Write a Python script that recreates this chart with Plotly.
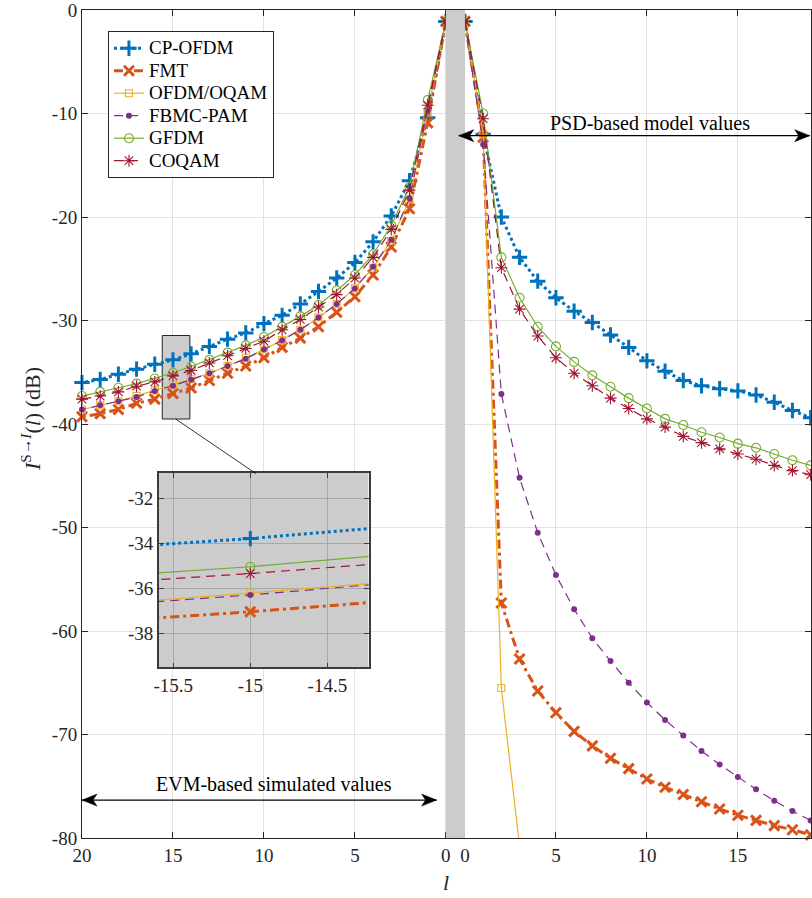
import plotly.graph_objects as go

# ---------------- data ----------------
SERIES = ["CP-OFDM", "FMT", "OFDM/OQAM", "FBMC-PAM", "GFDM", "COQAM"]

# left half: l = 0..20 (EVM-based simulated values, shown mirrored)
L_LEFT = list(range(0, 21))
CP_LEFT = [-1.1, -10.4, -16.5, -19.9, -22.4, -24.4, -25.9, -27.2, -28.4, -29.5, -30.3,
           -31.2, -31.8, -32.5, -33.22, -33.8, -34.22, -34.7, -35.2, -35.7, -36.0]
FMT_LEFT = [-1.1, -10.9, -19.2, -22.9, -25.6, -27.7, -29.2, -30.6, -31.7, -32.6, -33.6,
            -34.4, -35.1, -35.8, -36.52, -37.05, -37.6, -38.0, -38.6, -39.0, -39.3]
OQAM_LEFT = [-1.1, -9.9, -18.3, -22.3, -24.9, -26.9, -28.4, -29.7, -30.9, -31.9, -32.8,
             -33.6, -34.4, -35.1, -35.68, -36.2, -36.75, -37.3, -37.8, -38.2, -38.6]
PAM_LEFT = [-1.1, -9.7, -18.2, -22.2, -24.8, -26.9, -28.4, -29.7, -30.9, -31.9, -32.8,
            -33.7, -34.4, -35.1, -35.72, -36.3, -36.8, -37.4, -37.8, -38.2, -38.6]
GFDM_LEFT = [-1.1, -8.7, -17.1, -20.8, -23.6, -25.6, -27.1, -28.5, -29.6, -30.6, -31.6,
             -32.4, -33.1, -33.8, -34.45, -35.05, -35.6, -36.1, -36.5, -36.9, -37.3]
COQAM_LEFT = [-1.1, -9.2, -17.4, -21.2, -23.9, -25.9, -27.5, -28.7, -29.9, -30.9, -32.0,
              -32.7, -33.4, -34.1, -34.83, -35.35, -35.93, -36.35, -36.9, -37.3, -37.6]

# right half: l = 0..19 (PSD-based model values)
L_RIGHT = list(range(0, 20))
L_RIGHT_OQAM = list(range(0, 4))
CP_RIGHT = [-1.1, -12.0, -20.0, -23.9, -26.2, -27.8, -29.1, -30.2, -31.4, -32.6, -33.9,
            -34.9, -35.8, -36.3, -36.6, -36.8, -37.2, -37.9, -38.7, -39.4]
FMT_RIGHT = [-1.1, -12.3, -57.3, -62.7, -65.8, -67.9, -69.7, -71.1, -72.3, -73.3, -74.3,
             -75.1, -75.8, -76.5, -77.2, -77.8, -78.3, -78.8, -79.2, -79.7]
OQAM_RIGHT = [-1.1, -12.0, -65.5, -80.8]
PAM_RIGHT = [-1.1, -13.0, -37.1, -45.2, -50.5, -54.6, -57.9, -60.7, -62.9, -65.0, -66.9,
             -68.6, -70.1, -71.6, -72.9, -74.1, -75.3, -76.4, -77.4, -78.3]
GFDM_RIGHT = [-1.1, -10.0, -23.9, -27.8, -30.6, -32.5, -34.0, -35.3, -36.4, -37.5, -38.5,
              -39.5, -40.1, -40.8, -41.3, -41.9, -42.3, -42.9, -43.5, -44.0]
COQAM_RIGHT = [-1.1, -10.5, -24.9, -28.9, -31.5, -33.6, -35.1, -36.3, -37.5, -38.5, -39.5,
               -40.3, -41.2, -41.8, -42.4, -42.9, -43.4, -44.0, -44.5, -44.9]

X_TICKS_LEFT = [20, 15, 10, 5, 0]
X_TICKS_RIGHT = [0, 5, 10, 15]
Y_TICKS = [-80, -70, -60, -50, -40, -30, -20, -10, 0]
INSET_X_TICKS = [-15.5, -15, -14.5]
INSET_Y_TICKS = [-38, -36, -34, -32]

# ---------------- styling ----------------
GAP = 1.05  # width of the grey separator band (axis units)
FONT = "Liberation Serif"
AX = "#262626"

styles = {
    "CP-OFDM": dict(color="#0072BD", width=3, dash="3px,3px", symbol="cross-thin", size=11, mlw=3),
    "FMT": dict(color="#D95319", width=3, dash="9px,4px,3px,4px", symbol="x-thin", size=10, mlw=3),
    "OFDM/OQAM": dict(color="#EDB120", width=1.2, dash="solid", symbol="square-open", size=7, mlw=1.1),
    "FBMC-PAM": dict(color="#7E2F8E", width=1.2, dash="9px,6px", symbol="circle", size=6, mlw=0),
    "GFDM": dict(color="#77AC30", width=1.2, dash="solid", symbol="circle-open", size=9, mlw=1.1),
    "COQAM": dict(color="#A2142F", width=1.2, dash="9px,6px", symbol="asterisk-open", size=10, mlw=1.1),
}

left_vals = {"CP-OFDM": CP_LEFT, "FMT": FMT_LEFT, "OFDM/OQAM": OQAM_LEFT,
             "FBMC-PAM": PAM_LEFT, "GFDM": GFDM_LEFT, "COQAM": COQAM_LEFT}
right_vals = {"CP-OFDM": CP_RIGHT, "FMT": FMT_RIGHT, "OFDM/OQAM": OQAM_RIGHT,
              "FBMC-PAM": PAM_RIGHT, "GFDM": GFDM_RIGHT, "COQAM": COQAM_RIGHT}
right_l = {k: (L_RIGHT_OQAM if k == "OFDM/OQAM" else L_RIGHT) for k in SERIES}

fig = go.Figure()

for name in SERIES:
    st = styles[name]
    xs = [-l for l in L_LEFT] + [None] + [GAP + l for l in right_l[name]]
    ys = list(left_vals[name]) + [None] + list(right_vals[name])
    fig.add_trace(go.Scatter(
        x=xs, y=ys, mode="lines+markers",
        name=f'<span style="font-size:19px">{name}</span>',
        line=dict(color=st["color"], width=st["width"], dash=st["dash"]),
        marker=dict(symbol=st["symbol"], size=st["size"], color=st["color"],
                    line=dict(color=st["color"], width=st["mlw"])),
        connectgaps=False,
        cliponaxis=(name == "OFDM/OQAM"),
        xaxis="x", yaxis="y",
    ))

# inset (zoom of the left side around l = 15)
for name in SERIES:
    st = styles[name]
    fig.add_trace(go.Scatter(
        x=[-l for l in L_LEFT], y=left_vals[name], mode="lines+markers",
        showlegend=False,
        line=dict(color=st["color"], width=st["width"], dash=st["dash"]),
        marker=dict(symbol=st["symbol"], size=st["size"], color=st["color"],
                    line=dict(color=st["color"], width=st["mlw"])),
        xaxis="x2", yaxis="y2",
    ))

x_tickvals = [-v for v in X_TICKS_LEFT] + [GAP + v for v in X_TICKS_RIGHT]
x_ticktext = [str(v) for v in X_TICKS_LEFT] + [str(v) for v in X_TICKS_RIGHT]

tickfont = dict(family=FONT, size=19, color=AX)

fig.update_layout(
    width=812, height=898,
    margin=dict(l=82, r=0, t=8, b=60),
    paper_bgcolor="white", plot_bgcolor="rgba(0,0,0,0)",
    font=dict(family=FONT, size=19, color=AX),
    xaxis=dict(domain=[0, 1], range=[-20, 20.07], tickvals=x_tickvals, ticktext=x_ticktext,
               ticks="inside", ticklen=6, tickcolor=AX, showline=True, linecolor=AX,
               linewidth=1, mirror="ticks", showgrid=True, gridcolor="#e2e2e2",
               zeroline=False, tickfont=tickfont, anchor="y", ticklabeloverflow="allow"),
    yaxis=dict(domain=[0, 1], range=[-80, 0], tickvals=Y_TICKS,
               ticktext=[str(v) for v in Y_TICKS],
               ticks="inside", ticklen=6, tickcolor=AX, showline=True, linecolor=AX,
               linewidth=1, mirror="ticks", showgrid=True, gridcolor="#e2e2e2",
               zeroline=False, tickfont=tickfont, anchor="x", ticklabeloverflow="allow"),
    xaxis2=dict(domain=[0.1055, 0.3932], range=[-15.593, -14.232], anchor="y2",
                tickvals=INSET_X_TICKS, ticktext=[str(v) for v in INSET_X_TICKS],
                ticks="inside", ticklen=5, tickcolor="#3c3c3c", showline=True,
                linecolor="#3c3c3c", linewidth=1.5, mirror="ticks", showgrid=True,
                gridcolor="#a9a9a9", zeroline=False, tickfont=tickfont),
    yaxis2=dict(domain=[0.2060, 0.4410], range=[-39.52, -30.88], anchor="x2",
                tickvals=INSET_Y_TICKS, ticktext=[str(v) for v in INSET_Y_TICKS],
                ticks="inside", ticklen=5, tickcolor="#3c3c3c", showline=True,
                linecolor="#3c3c3c", linewidth=1.5, mirror="ticks", showgrid=True,
                gridcolor="#a9a9a9", zeroline=False, tickfont=tickfont),
    legend=dict(x=0.0356, y=0.9747, xanchor="left", yanchor="top",
                bgcolor="white", bordercolor=AX, borderwidth=1,
                font=dict(family=FONT, size=15, color="black"),
                tracegroupgap=0),
    showlegend=True,
)

PSD_Y, PSD_X0, PSD_X1 = -12.14, 0.71, 20.0
EVM_Y, EVM_X0, EVM_X1 = -76.34, -20.0, -0.51
HEAD_R = "M0,0 L-15,6 L-11,0 L-15,-6 Z"
HEAD_L = "M0,0 L15,6 L11,0 L15,-6 Z"


def arrow_shapes(x0, x1, y):
    return [
        dict(type="line", xref="x", yref="y", x0=x0, x1=x1, y0=y, y1=y,
             line=dict(color="black", width=1.2), layer="above"),
        dict(type="path", xref="x", yref="y", xsizemode="pixel", ysizemode="pixel",
             xanchor=x1, yanchor=y, path=HEAD_R, fillcolor="black",
             line=dict(color="black", width=0.5), layer="above"),
        dict(type="path", xref="x", yref="y", xsizemode="pixel", ysizemode="pixel",
             xanchor=x0, yanchor=y, path=HEAD_L, fillcolor="black",
             line=dict(color="black", width=0.5), layer="above"),
    ]


shapes = [
    # inset background
    dict(type="rect", xref="x2", yref="y2", x0=-15.593, x1=-14.232, y0=-39.52, y1=-30.88,
         fillcolor="#cccccc", line=dict(width=0), layer="below"),
    # zoom region marker on main plot
    dict(type="rect", xref="x", yref="y", x0=-15.59, x1=-14.07, y0=-39.52, y1=-31.45,
         fillcolor="#cccccc", line=dict(color=AX, width=1), layer="between"),
    # connector
    dict(type="line", xref="x", yref="y", x0=-14.85, y0=-39.52, x1=-10.44, y1=-44.79,
         line=dict(color="black", width=0.8), layer="above"),
    # grey separator band
    dict(type="rect", xref="x", yref="y", x0=0, x1=GAP, y0=-80, y1=0,
         fillcolor="#cccccc", line=dict(width=0), layer="above"),
]
shapes += arrow_shapes(PSD_X0, PSD_X1, PSD_Y)
shapes += arrow_shapes(EVM_X0, EVM_X1, EVM_Y)
fig.update_layout(shapes=shapes)

annotations = [
    dict(text="<i>I</i><sup>S→<i>I</i></sup>(<i>l</i>) (dB)", xref="paper", yref="paper",
         x=-0.07, y=0.506, textangle=-90, showarrow=False, xanchor="center", yanchor="middle",
         font=dict(family=FONT, size=22, color=AX)),
    dict(text="<i>l</i>", xref="paper", yref="paper", x=0.4996, y=-0.0542, showarrow=False,
         xanchor="center", yanchor="middle", font=dict(family=FONT, size=22, color=AX)),
    dict(text="PSD-based model values", xref="x", yref="y", x=11.21, y=-10.9, showarrow=False,
         xanchor="center", yanchor="middle", font=dict(family=FONT, size=20, color="black")),
    dict(text="EVM-based simulated values", xref="x", yref="y", x=-9.45, y=-74.8, showarrow=False,
         xanchor="center", yanchor="middle", font=dict(family=FONT, size=20, color="black")),
]
fig.update_layout(annotations=annotations)

fig.write_html(
    "out.html",
    config={"displayModeBar": False},
    post_script="document.body.style.margin='0';document.body.style.overflow='hidden';",
)
